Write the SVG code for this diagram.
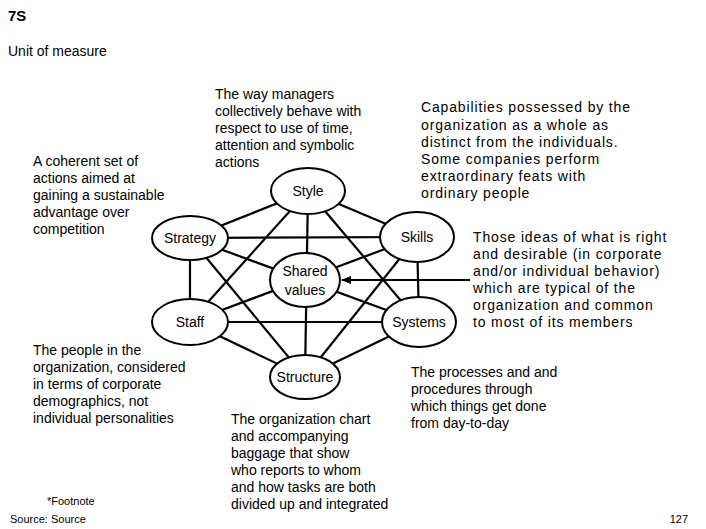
<svg xmlns="http://www.w3.org/2000/svg" width="706" height="529" viewBox="0 0 706 529">
<style>
text{font-family:"Liberation Sans",Arial,sans-serif;font-size:14px;fill:#000}
.w{letter-spacing:0.85px}
.n ellipse{fill:#fff;stroke:#000;stroke-width:2}
.n text{text-anchor:middle}
#connectors line{stroke:#000;stroke-width:2.2}
</style>
<defs><marker id="ah" markerWidth="10" markerHeight="8" refX="9" refY="4" orient="auto" markerUnits="userSpaceOnUse"><path d="M0,0L10,4L0,8z" fill="#000"/></marker></defs>
<rect width="706" height="529" fill="#fff"/>
<text x="8" y="21" font-weight="bold" style="font-size:15px">7S</text>
<text x="8" y="56">Unit of measure</text>
<g id="connectors">
<line x1="308" y1="191" x2="190" y2="238"/>
<line x1="308" y1="191" x2="417" y2="237"/>
<line x1="308" y1="191" x2="305" y2="377"/>
<line x1="308" y1="191" x2="190" y2="322"/>
<line x1="308" y1="191" x2="419" y2="322"/>
<line x1="190" y1="238" x2="417" y2="237"/>
<line x1="190" y1="238" x2="419" y2="322"/>
<line x1="190" y1="238" x2="190" y2="322"/>
<line x1="190" y1="238" x2="305" y2="377"/>
<line x1="417" y1="237" x2="190" y2="322"/>
<line x1="417" y1="237" x2="419" y2="322"/>
<line x1="417" y1="237" x2="305" y2="377"/>
<line x1="190" y1="322" x2="419" y2="322"/>
<line x1="190" y1="322" x2="305" y2="377"/>
<line x1="419" y1="322" x2="305" y2="377"/>
<line x1="470" y1="280" x2="342" y2="280" marker-end="url(#ah)" style="stroke-width:2"/>
</g>
<g id="style" class="n"><ellipse cx="308" cy="191" rx="37" ry="23"/><text x="308" y="196">Style</text></g>
<g id="strategy" class="n"><ellipse cx="190" cy="238" rx="38" ry="22"/><text x="190" y="243">Strategy</text></g>
<g id="skills" class="n"><ellipse cx="417" cy="237" rx="37" ry="25"/><text x="417" y="242">Skills</text></g>
<g id="shared" class="n"><ellipse cx="305" cy="280" rx="35" ry="27"/><text x="305" y="276">Shared</text><text x="305" y="295">values</text></g>
<g id="staff" class="n"><ellipse cx="190" cy="322" rx="38" ry="23"/><text x="190" y="327">Staff</text></g>
<g id="systems" class="n"><ellipse cx="419" cy="322" rx="37" ry="25"/><text x="419" y="327">Systems</text></g>
<g id="structure" class="n"><ellipse cx="305" cy="377" rx="35" ry="22"/><text x="305" y="382">Structure</text></g>
<text x="215" y="99">The way managers</text>
<text x="215" y="116">collectively behave with</text>
<text x="215" y="133">respect to use of time,</text>
<text x="215" y="150">attention and symbolic</text>
<text x="215" y="167">actions</text>
<text x="33" y="166">A coherent set of</text>
<text x="33" y="183">actions aimed at</text>
<text x="33" y="200">gaining a sustainable</text>
<text x="33" y="217">advantage over</text>
<text x="33" y="234">competition</text>
<g class="w">
<text x="421" y="112">Capabilities possessed by the</text>
<text x="421" y="130">organization as a whole as</text>
<text x="421" y="147">distinct from the individuals.</text>
<text x="421" y="164">Some companies perform</text>
<text x="421" y="181">extraordinary feats with</text>
<text x="421" y="198">ordinary people</text>
<text x="473" y="242">Those ideas of what is right</text>
<text x="473" y="259">and desirable (in corporate</text>
<text x="473" y="276">and/or individual behavior)</text>
<text x="473" y="293">which are typical of the</text>
<text x="473" y="310">organization and common</text>
<text x="473" y="327">to most of its members</text>
</g>
<text x="33" y="355">The people in the</text>
<text x="33" y="372">organization, considered</text>
<text x="33" y="389">in terms of corporate</text>
<text x="33" y="406">demographics, not</text>
<text x="33" y="423">individual personalities</text>
<text x="411" y="377">The processes and and</text>
<text x="411" y="394">procedures through</text>
<text x="411" y="411">which things get done</text>
<text x="411" y="428">from day-to-day</text>
<text x="231" y="424">The organization chart</text>
<text x="231" y="441">and accompanying</text>
<text x="231" y="458">baggage that show</text>
<text x="231" y="475">who reports to whom</text>
<text x="231" y="492">and how tasks are both</text>
<text x="231" y="509">divided up and integrated</text>
<text x="47" y="505" style="font-size:11px">*Footnote</text>
<text x="10" y="523" style="font-size:11px">Source: Source</text>
<text x="688" y="523" text-anchor="end" style="font-size:11px">127</text>
</svg>
